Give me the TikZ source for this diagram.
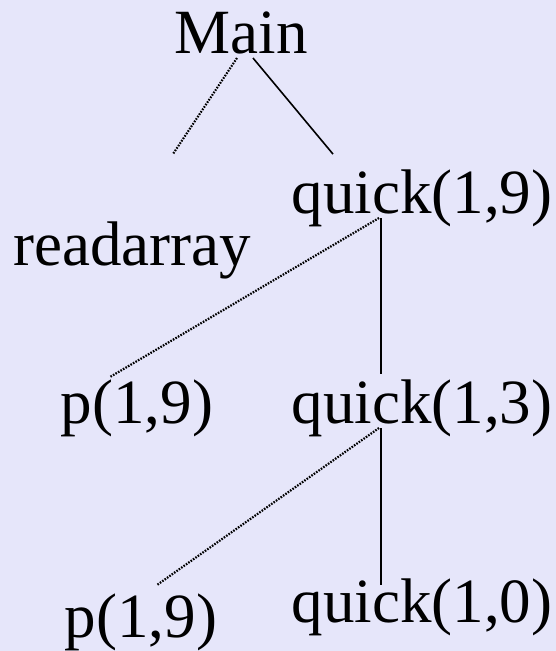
\documentclass[tikz,border=0pt]{standalone}
\usepackage{fontspec}
\setmainfont{Liberation Serif}
\usetikzlibrary{positioning}
\definecolor{lavbg}{RGB}{230,230,250}

\begin{document}
\begin{tikzpicture}[x=1pt, y=-1pt,
            fcall/.style={font=\fontsize{63}{70}\selectfont, inner sep=0pt, anchor=base},
            done/.style={line width=1.6pt},
            later/.style={line width=2.2pt, dash pattern=on 1.6pt off 1.3pt}
        ]
        \fill[lavbg] (0,0) rectangle (556,651);
        \useasboundingbox (0,0) rectangle (556,651);
        % --- (a) calls made from main ---
        \node[fcall] (main) at (241,53) {Main};
        \node[fcall] (rdarr) at (132,265) {readarray};
        \node[fcall] (q19) at (422,213) {quick(1,9)};
        \coordinate (rdstub) at (173,154);
        \draw[later] ([xshift=-4pt,yshift=-5pt]main.base) -- (rdstub);
        \draw[done] ([xshift=12pt,yshift=-5pt]main.base) -- ([xshift=-89pt,yshift=15pt]q19.north);
        % --- (b) recursion on the left part ---
        \node[fcall] (p1) at (137,423) {p(1,9)};
        \node[fcall] (q13) at (422,423) {quick(1,3)};
        \draw[later] ([xshift=-43pt,yshift=-5pt]q19.base) -- ([xshift=-27pt,yshift=46pt]p1.base);
        \draw[done] ([xshift=-41pt,yshift=-5pt]q19.base) -- ([xshift=-41pt,yshift=49pt]q13.base);
        \node[fcall] (p2) at (141,637) {p(1,9)};
        \node[fcall] (q10) at (422,622) {quick(1,0)};
        \draw[later] ([xshift=-43pt,yshift=-5pt]q13.base) -- ([xshift=16pt,yshift=52pt]p2.base);
        \draw[done] ([xshift=-41pt,yshift=-5pt]q13.base) -- ([xshift=-41pt,yshift=37pt]q10.base);
\end{tikzpicture}
\end{document}
